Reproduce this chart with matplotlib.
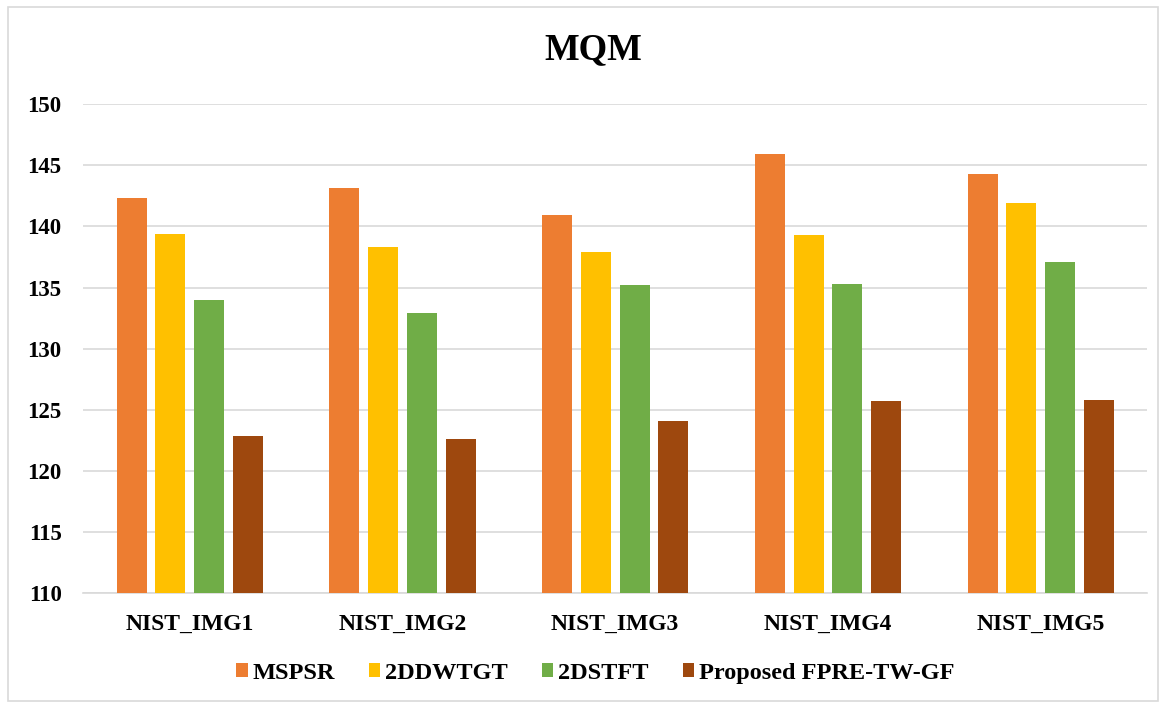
import numpy as np
import matplotlib.pyplot as plt
from matplotlib.patches import Rectangle

# %%
# MQM scores per test image for each method
categories = ["NIST_IMG1", "NIST_IMG2", "NIST_IMG3", "NIST_IMG4", "NIST_IMG5"]
methods = ["MSPSR", "2DDWTGT", "2DSTFT", "Proposed FPRE-TW-GF"]
mspsr = [142.3, 143.1, 140.9, 145.9, 144.3]
dwtgt = [139.4, 138.3, 137.9, 139.3, 141.9]
dstft = [134.0, 132.9, 135.2, 135.3, 137.1]
proposed = [122.9, 122.6, 124.1, 125.7, 125.8]
y_ticks = [110, 115, 120, 125, 130, 135, 140, 145, 150]

colors = ["#ed7d31", "#ffc000", "#70ad47", "#9e480e"]

plt.rcParams["font.family"] = ["Liberation Serif", "DejaVu Serif"]
plt.rcParams["font.weight"] = "bold"

# %%
fig = plt.figure(figsize=(11.63, 7.05), dpi=100)
ax = fig.add_axes([0.0716, 0.1582, 0.9148, 0.6943])

x = np.arange(len(categories))
width = 0.141
step = 0.182
for i, (vals, name) in enumerate(zip([mspsr, dwtgt, dstft, proposed], methods)):
    ax.bar(x + (i - 1.5) * step, vals, width, color=colors[i], label=name,
           zorder=3)

ax.set_xlim(-0.5, len(categories) - 0.5)
ax.set_ylim(110, 150)
ax.set_yticks(y_ticks)
ax.set_xticks(x)
ax.set_xticklabels(categories, fontsize=17, fontweight="bold")
ax.tick_params(axis="y", labelsize=16.5, length=0, pad=15.5)
ax.tick_params(axis="x", length=0, pad=14.5)
ax.grid(axis="y", color="#d9d9d9", linewidth=1.2, zorder=0)
for side in ["top", "right", "left"]:
    ax.spines[side].set_visible(False)
ax.spines["bottom"].set_color("#d9d9d9")
ax.spines["bottom"].set_linewidth(1.2)

fig.text(0.51, 0.930, "MQM", ha="center", va="center", fontsize=26.5,
         fontweight="bold")

fig.legend(loc="center", bbox_to_anchor=(0.512, 0.045), ncol=4,
           frameon=False, fontsize=17.5, handlelength=0.47, handleheight=0.47,
           handletextpad=0.2, columnspacing=1.4)

# light frame round the chart area
fig.patches.append(Rectangle((8 / 1163, 4 / 705), 1150 / 1163, 694 / 705,
                             transform=fig.transFigure, fill=False,
                             edgecolor="#d9d9d9", linewidth=1.2))

fig.savefig("out.png", dpi=100)
